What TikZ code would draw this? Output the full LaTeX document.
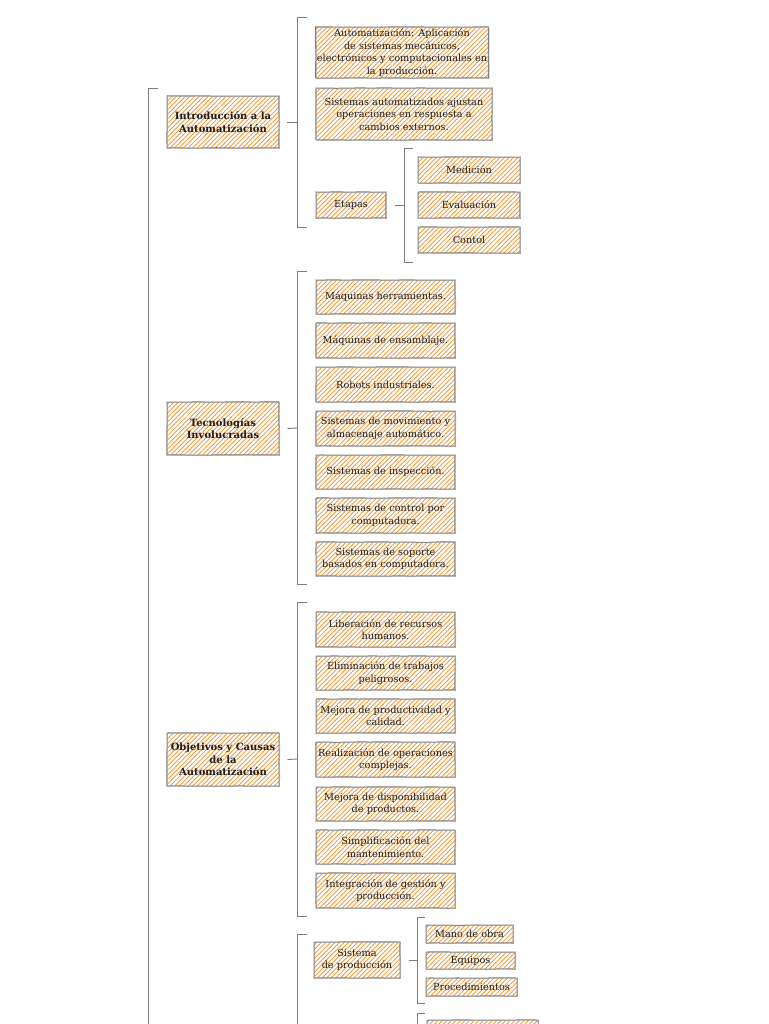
\documentclass[tikz,border=0pt]{standalone}
\usepackage{fontspec}
\setmainfont{DejaVu Serif}
\usetikzlibrary{patterns.meta,decorations.pathmorphing}
\definecolor{hatch}{RGB}{240,155,60}
\definecolor{edge}{RGB}{125,125,125}
\definecolor{ink}{RGB}{30,30,30}
\newcommand\mkbox[7][box]{\node[#1, minimum width={(#5-#3)*0.75pt}, minimum height={(#6-#4)*0.75pt}] (#2) at ({(#3+#5)/2},{(#4+#6)/2}) {#7};}
\pgfmathsetseed{7}
\tikzset{
  box/.style={draw=edge, line width=0.75pt, pattern={Lines[angle=45,distance=2.4pt,line width=0.65pt]}, pattern color=hatch, inner sep=1pt, align=center, font=\fontsize{7.3}{9.4}\selectfont, text=ink,
    decorate, decoration={random steps, segment length=9pt, amplitude=0.2pt},
    postaction={draw=edge!70, line width=0.35pt, transform canvas={shift={(0.5pt,-0.4pt)}}}},
  head/.style={box, font=\fontsize{7.5}{9.4}\selectfont\bfseries},
  brk/.style={draw=edge, line width=0.7pt},
}
\begin{document}
\begin{tikzpicture}[x=0.75pt,y=-0.75pt]
\useasboundingbox (0,0) rectangle (768,1024);
\clip (0,0) rectangle (768,1024);
% main bracket
\draw[brk] (158,88) -- (148,88) -- (148,1030);
% level 1
\mkbox[head]{intro}{167}{96}{279}{148}{Introducción a la\\Automatización}
\mkbox[head]{tec}{167}{402}{279}{455}{Tecnologías\\Involucradas}
\mkbox[head]{obj}{167}{733}{279}{786}{Objetivos y Causas\\de la\\Automatización}
% group 1
\coordinate (b1) at (297,122);
\draw[brk] (307,17) -- (297,17) -- (297,227) -- (307,227);
\draw[brk] ([xshift=6pt]intro.east) -- (b1);
\mkbox{a1}{316}{27}{488}{78}{Automatización: Aplicación\\de sistemas mecánicos,\\electrónicos y computacionales en\\la producción.}
\mkbox{a2}{316}{88}{492}{140}{Sistemas automatizados ajustan\\operaciones en respuesta a\\cambios externos.}
\mkbox{etapas}{316}{192}{386}{218}{Etapas}
\coordinate (be) at (404,205);
\draw[brk] (413,148) -- (404,148) -- (404,262) -- (413,262);
\draw[brk] ([xshift=6.5pt]etapas.east) -- (be);
\mkbox{med}{418}{157}{520}{183}{Medición}
\mkbox{eva}{418}{192}{520}{218}{Evaluación}
\mkbox{con}{418}{227}{520}{253}{Contol}
% group 2
\coordinate (b2) at (297,428);
\draw[brk] (307,271) -- (297,271) -- (297,584) -- (307,584);
\draw[brk] ([xshift=6pt]tec.east) -- (b2);
\mkbox{t1}{316}{280}{455}{314}{Máquinas herramientas.}
\mkbox{t2}{316}{323}{455}{358}{Máquinas de ensamblaje.}
\mkbox{t3}{316}{367}{455}{402}{Robots industriales.}
\mkbox{t4}{316}{411}{455}{446}{Sistemas de movimiento y\\almacenaje automático.}
\mkbox{t5}{316}{455}{455}{489}{Sistemas de inspección.}
\mkbox{t6}{316}{498}{455}{533}{Sistemas de control por\\computadora.}
\mkbox{t7}{316}{542}{455}{576}{Sistemas de soporte\\basados en computadora.}
% group 3
\coordinate (b3) at (297,759);
\draw[brk] (307,602) -- (297,602) -- (297,916) -- (307,916);
\draw[brk] ([xshift=6pt]obj.east) -- (b3);
\mkbox{o1}{316}{612}{455}{647}{Liberación de recursos\\humanos.}
\mkbox{o2}{316}{656}{455}{690}{Eliminación de trabajos\\peligrosos.}
\mkbox{o3}{316}{699}{455}{733}{Mejora de productividad y\\calidad.}
\mkbox{o4}{316}{742}{455}{777}{Realización de operaciones\\complejas.}
\mkbox{o5}{316}{787}{455}{821}{Mejora de disponibilidad\\de productos.}
\mkbox{o6}{316}{830}{455}{864}{Simplificación del\\mantenimiento.}
\mkbox{o7}{316}{873}{455}{908}{Integración de gestión y\\producción.}
% group 4
\draw[brk] (307,934) -- (297,934) -- (297,1030);
\mkbox{sis}{314}{942}{400}{978}{Sistema\\de producción}
\coordinate (bs) at (417,960);
\draw[brk] (425,917) -- (417,917) -- (417,1003) -- (425,1003);
\draw[brk] ([xshift=6pt]sis.east) -- (bs);
\mkbox{s1}{426}{925}{513}{943}{Mano de obra}
\mkbox{s2}{426}{952}{515}{969}{Equipos}
\mkbox{s3}{426}{978}{517}{996}{Procedimientos}
\draw[brk] (425,1013) -- (417,1013) -- (417,1030);
\mkbox{cut}{427}{1020}{538}{1060}{}
\end{tikzpicture}
\end{document}
